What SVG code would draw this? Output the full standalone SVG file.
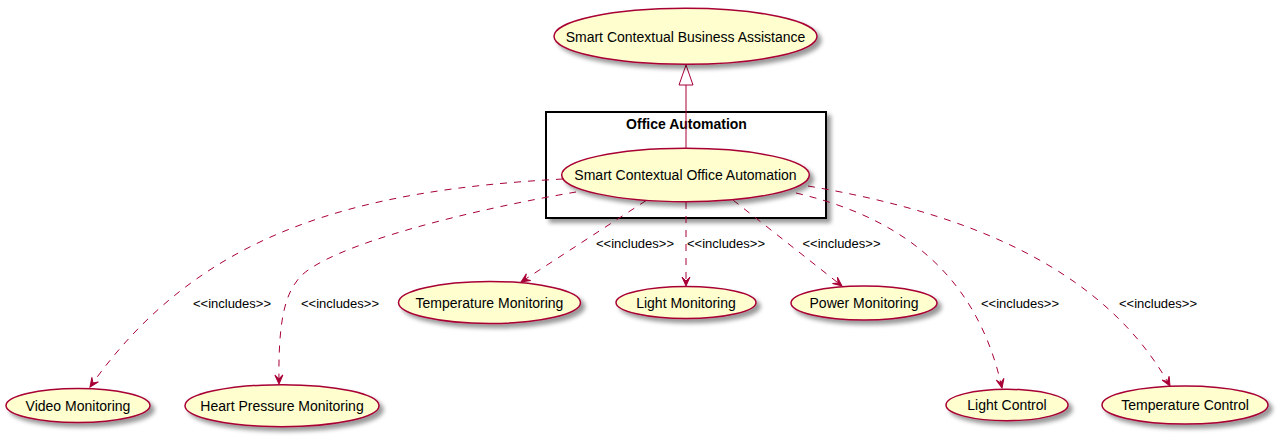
<svg xmlns="http://www.w3.org/2000/svg" width="1278" height="438" viewBox="0 0 1278 438">
<defs>
<filter id="sh" x="-10%" y="-20%" width="130%" height="150%">
<feGaussianBlur in="SourceAlpha" stdDeviation="2" result="b"/>
<feColorMatrix in="b" type="matrix" values="0 0 0 0 0  0 0 0 0 0  0 0 0 0 0  0 0 0 .4 0" result="b2"/>
<feOffset in="b2" dx="4" dy="4" result="b3"/>
<feBlend in="SourceGraphic" in2="b3" mode="normal"/>
</filter>
<marker id="arr" markerUnits="userSpaceOnUse" markerWidth="14" markerHeight="12" viewBox="-10 -6 12 12" refX="0" refY="0" orient="auto">
<path d="M0,0 L-9,-4 L-5,0 L-9,4 Z" fill="#A80036" stroke="#A80036" stroke-width="1"/>
</marker>
</defs>
<style>
.uc ellipse{fill:#FEFECE;stroke:#A80036;stroke-width:1.5;filter:url(#sh)}
.uc text{font-family:"Liberation Sans",Arial,sans-serif;font-size:14px;fill:#000;text-anchor:middle}
.inc{fill:none;stroke:#A80036;stroke-width:1;stroke-dasharray:7,7;marker-end:url(#arr)}
.lbl{font-family:"Liberation Sans",Arial,sans-serif;font-size:13px;fill:#000;text-anchor:middle}
.title{font-family:"Liberation Sans",Arial,sans-serif;font-size:14px;font-weight:bold;fill:#000;text-anchor:middle}
</style>

<g id="package-office-automation">
<rect x="546" y="112" width="280" height="106" fill="#FFFFFF" stroke="#000000" stroke-width="2" filter="url(#sh)"/>
<text class="title" x="686.5" y="129">Office Automation</text>
</g>

<g id="connectors">
<line x1="686" y1="85" x2="686" y2="148" stroke="#A80036" stroke-width="1"/>
<polygon points="686,65 679,85 693,85" fill="#FFFFFF" stroke="#A80036" stroke-width="1"/>
<path class="inc" d="M563,179 C360,190 200,230 90,387"/>
<path class="inc" d="M576,192 C470,210 330,245 300,277 C285,294 278,320 279,384"/>
<path class="inc" d="M646,200.6 L521,282"/>
<path class="inc" d="M686,202 L686,286"/>
<path class="inc" d="M733,200 L842,286"/>
<path class="inc" d="M796,193 C890,215 975,265 1002,388"/>
<path class="inc" d="M808,186 C950,210 1100,260 1170,386"/>
<text class="lbl" x="232" y="307.5">&lt;&lt;includes&gt;&gt;</text>
<text class="lbl" x="340" y="307.5">&lt;&lt;includes&gt;&gt;</text>
<text class="lbl" x="635" y="247.5">&lt;&lt;includes&gt;&gt;</text>
<text class="lbl" x="726" y="247.5">&lt;&lt;includes&gt;&gt;</text>
<text class="lbl" x="841.5" y="247.5">&lt;&lt;includes&gt;&gt;</text>
<text class="lbl" x="1020" y="307.5">&lt;&lt;includes&gt;&gt;</text>
<text class="lbl" x="1158" y="307.5">&lt;&lt;includes&gt;&gt;</text>
</g>

<g id="uc-business-assistance" class="uc">
<ellipse cx="685.5" cy="36.3" rx="131.5" ry="28"/>
<text x="685.5" y="41.5">Smart Contextual Business Assistance</text>
</g>
<g id="uc-office-automation" class="uc">
<ellipse cx="685.5" cy="175" rx="123.8" ry="26.7"/>
<text x="685.5" y="180">Smart Contextual Office Automation</text>
</g>
<g id="uc-temperature-monitoring" class="uc">
<ellipse cx="489.5" cy="302.5" rx="91" ry="21"/>
<text x="489.5" y="307.5">Temperature Monitoring</text>
</g>
<g id="uc-light-monitoring" class="uc">
<ellipse cx="686" cy="302.5" rx="70" ry="16"/>
<text x="686" y="307.5">Light Monitoring</text>
</g>
<g id="uc-power-monitoring" class="uc">
<ellipse cx="864" cy="303" rx="73" ry="17"/>
<text x="864" y="308">Power Monitoring</text>
</g>
<g id="uc-video-monitoring" class="uc">
<ellipse cx="78" cy="405.5" rx="72" ry="17"/>
<text x="78" y="410.5">Video Monitoring</text>
</g>
<g id="uc-heart-pressure-monitoring" class="uc">
<ellipse cx="282" cy="405.7" rx="97" ry="21"/>
<text x="282" y="410.7">Heart Pressure Monitoring</text>
</g>
<g id="uc-light-control" class="uc">
<ellipse cx="1007" cy="405" rx="61" ry="15.7"/>
<text x="1007" y="410">Light Control</text>
</g>
<g id="uc-temperature-control" class="uc">
<ellipse cx="1185" cy="405" rx="83" ry="19"/>
<text x="1185" y="410">Temperature Control</text>
</g>
</svg>
